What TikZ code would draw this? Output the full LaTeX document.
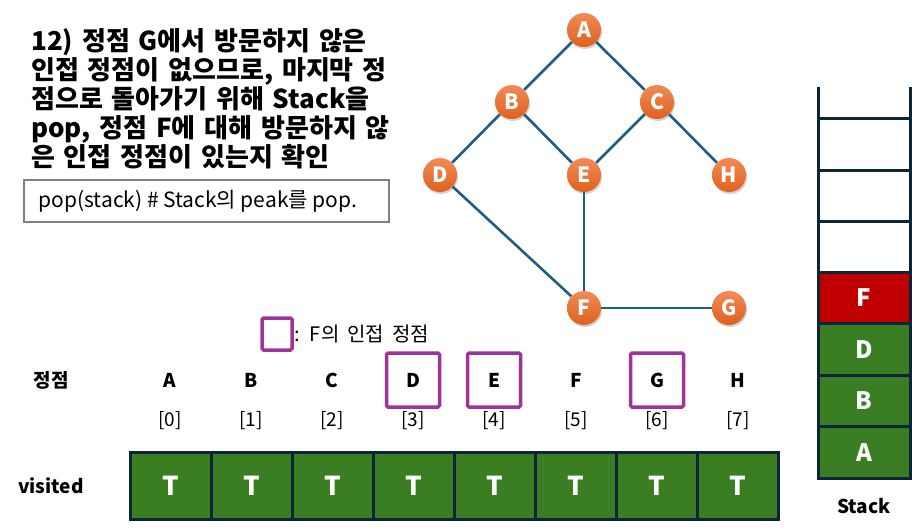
\documentclass[tikz,border=0pt]{standalone}
\usepackage{fontspec}
\setmainfont{Noto Sans CJK KR}
\usetikzlibrary{shadows}
\definecolor{VTop}{HTML}{F28B55}
\definecolor{VBot}{HTML}{E0601E}
\definecolor{CEdge}{HTML}{1C607F}
\definecolor{CLine}{HTML}{0D2535}
\definecolor{CGreen}{HTML}{3B7D23}
\definecolor{CRed}{HTML}{C00000}
\definecolor{CPurple}{HTML}{9E3399}
\definecolor{CGray}{HTML}{7F7F7F}
\newcommand{\widespace}[1]{\spaceskip=#1\relax}

\tikzset{
    vertex/.style={circle, minimum size=34pt, inner sep=0pt, top color=VTop, bottom color=VBot,
        text=white, font=\fontsize{21}{21}\selectfont\bfseries,
        drop shadow={opacity=0.35, shadow xshift=1pt, shadow yshift=-2pt}},
    edge/.style={CEdge, line width=2.6pt},
    cell/.style={draw=CLine, line width=3pt, fill=CGreen, minimum width=81pt, minimum height=67pt,
        inner sep=0pt, text=white, font=\fontsize{26}{26}\selectfont\bfseries},
    stackcell/.style={draw=CLine, line width=3pt, minimum width=92pt, minimum height=51.5pt,
        inner sep=0pt, text=white, font=\fontsize{24}{24}\selectfont\bfseries},
    adjbox/.style={draw=CPurple, line width=3.5pt, rounded corners=1.5pt, minimum width=53pt, minimum height=54pt},
    label/.style={font=\fontsize{19}{19}\selectfont\bfseries},
    index/.style={font=\fontsize{19}{19}\selectfont}
}

\begin{document}
\begin{tikzpicture}[x=1pt, y=-1pt]
    \useasboundingbox (0,0) rectangle (912,530);

    % Title
    \node[anchor=north west, align=left, inner sep=0pt, font={\fontsize{26}{29}\selectfont\bfseries\widespace{0.34em}}] (title) at (31,28)
        {12) 정점 G에서 방문하지 않은\\인접 정점이 없으므로, 마지막 정\\점으로 돌아가기 위해 Stack을\\pop, 정점 F에 대해 방문하지 않\\은 인접 정점이 있는지 확인};

    % Code box
    \node[draw=CGray, line width=2pt, anchor=west, minimum width=365pt, minimum height=42pt, inner sep=0pt] (code) at (23,201) {};
    \node[anchor=west, font=\fontsize{21}{21}\selectfont] (codetext) at (35,201) {pop(stack) \# Stack의 peak를 pop.};

    % Graph vertices
    \node[vertex] (A) at (584,30) {A};
    \node[vertex] (B) at (512,102) {B};
    \node[vertex] (C) at (657,102) {C};
    \node[vertex] (D) at (440,175) {D};
    \node[vertex] (E) at (584,175) {E};
    \node[vertex] (H) at (729,175) {H};
    \node[vertex] (F) at (584,308) {F};
    \node[vertex] (G) at (729,308) {G};

    % Graph edges
    \draw[edge] (A) -- (B);
    \draw[edge] (A) -- (C);
    \draw[edge] (B) -- (D);
    \draw[edge] (B) -- (E);
    \draw[edge] (C) -- (E);
    \draw[edge] (C) -- (H);
    \draw[edge] (D) -- (F);
    \draw[edge] (E) -- (F);
    \draw[edge] (F) -- (G);

    % Legend
    \node[draw=CPurple, line width=3.5pt, rounded corners=1.5pt, minimum width=30pt, minimum height=32pt, inner sep=0pt] (legbox) at (277,334) {};
    \node[anchor=west, font={\fontsize{20}{20}\selectfont\widespace{0.4em}}, inner sep=1pt] (legtext) at (legbox.east) {: F의 인접 정점};

    % Row labels
    \node[label] (vlabel) at (51,380) {정점};
    \node[label] (visitedlabel) at (51,486) {visited};

    % Vertex names
    \node[label] (nA) at (170,380) {A};
    \node[label] (nB) at (251,380) {B};
    \node[label] (nC) at (332,380) {C};
    \node[label] (nD) at (413,380) {D};
    \node[label] (nE) at (494,380) {E};
    \node[label] (nF) at (576,380) {F};
    \node[label] (nG) at (657,380) {G};
    \node[label] (nH) at (738,380) {H};

    % Adjacent vertices of F
    \node[adjbox] (adjD) at (nD) {};
    \node[adjbox] (adjE) at (nE) {};
    \node[adjbox] (adjG) at (nG) {};

    % Indices
    \node[index] (i0) at (170,421) {[0]};
    \node[index] (i1) at (251,421) {[1]};
    \node[index] (i2) at (332,421) {[2]};
    \node[index] (i3) at (413,421) {[3]};
    \node[index] (i4) at (494,421) {[4]};
    \node[index] (i5) at (576,421) {[5]};
    \node[index] (i6) at (657,421) {[6]};
    \node[index] (i7) at (738,421) {[7]};

    % visited array
    \node[cell] (v0) at (170.5,485.5) {T};
    \node[cell] (v1) at (251.5,485.5) {T};
    \node[cell] (v2) at (332.5,485.5) {T};
    \node[cell] (v3) at (413.5,485.5) {T};
    \node[cell] (v4) at (494.5,485.5) {T};
    \node[cell] (v5) at (575.5,485.5) {T};
    \node[cell] (v6) at (656.5,485.5) {T};
    \node[cell] (v7) at (737.5,485.5) {T};

    % Stack
    \draw[CLine, line width=3pt] (818,87) -- (818,478) -- (910,478) -- (910,87);
    \draw[CLine, line width=3pt] (818,118) -- (910,118);
    \draw[CLine, line width=3pt] (818,170) -- (910,170);
    \draw[CLine, line width=3pt] (818,221) -- (910,221);
    \node[stackcell, fill=CGreen] (sA) at (864,452.25) {A};
    \node[stackcell, fill=CGreen] (sB) at (864,400.75) {B};
    \node[stackcell, fill=CGreen] (sD) at (864,349.25) {D};
    \node[stackcell, fill=CRed] (sF) at (864,297.75) {F};
    \node[label] (stacklabel) at (864,506) {Stack};

\end{tikzpicture}
\end{document}
